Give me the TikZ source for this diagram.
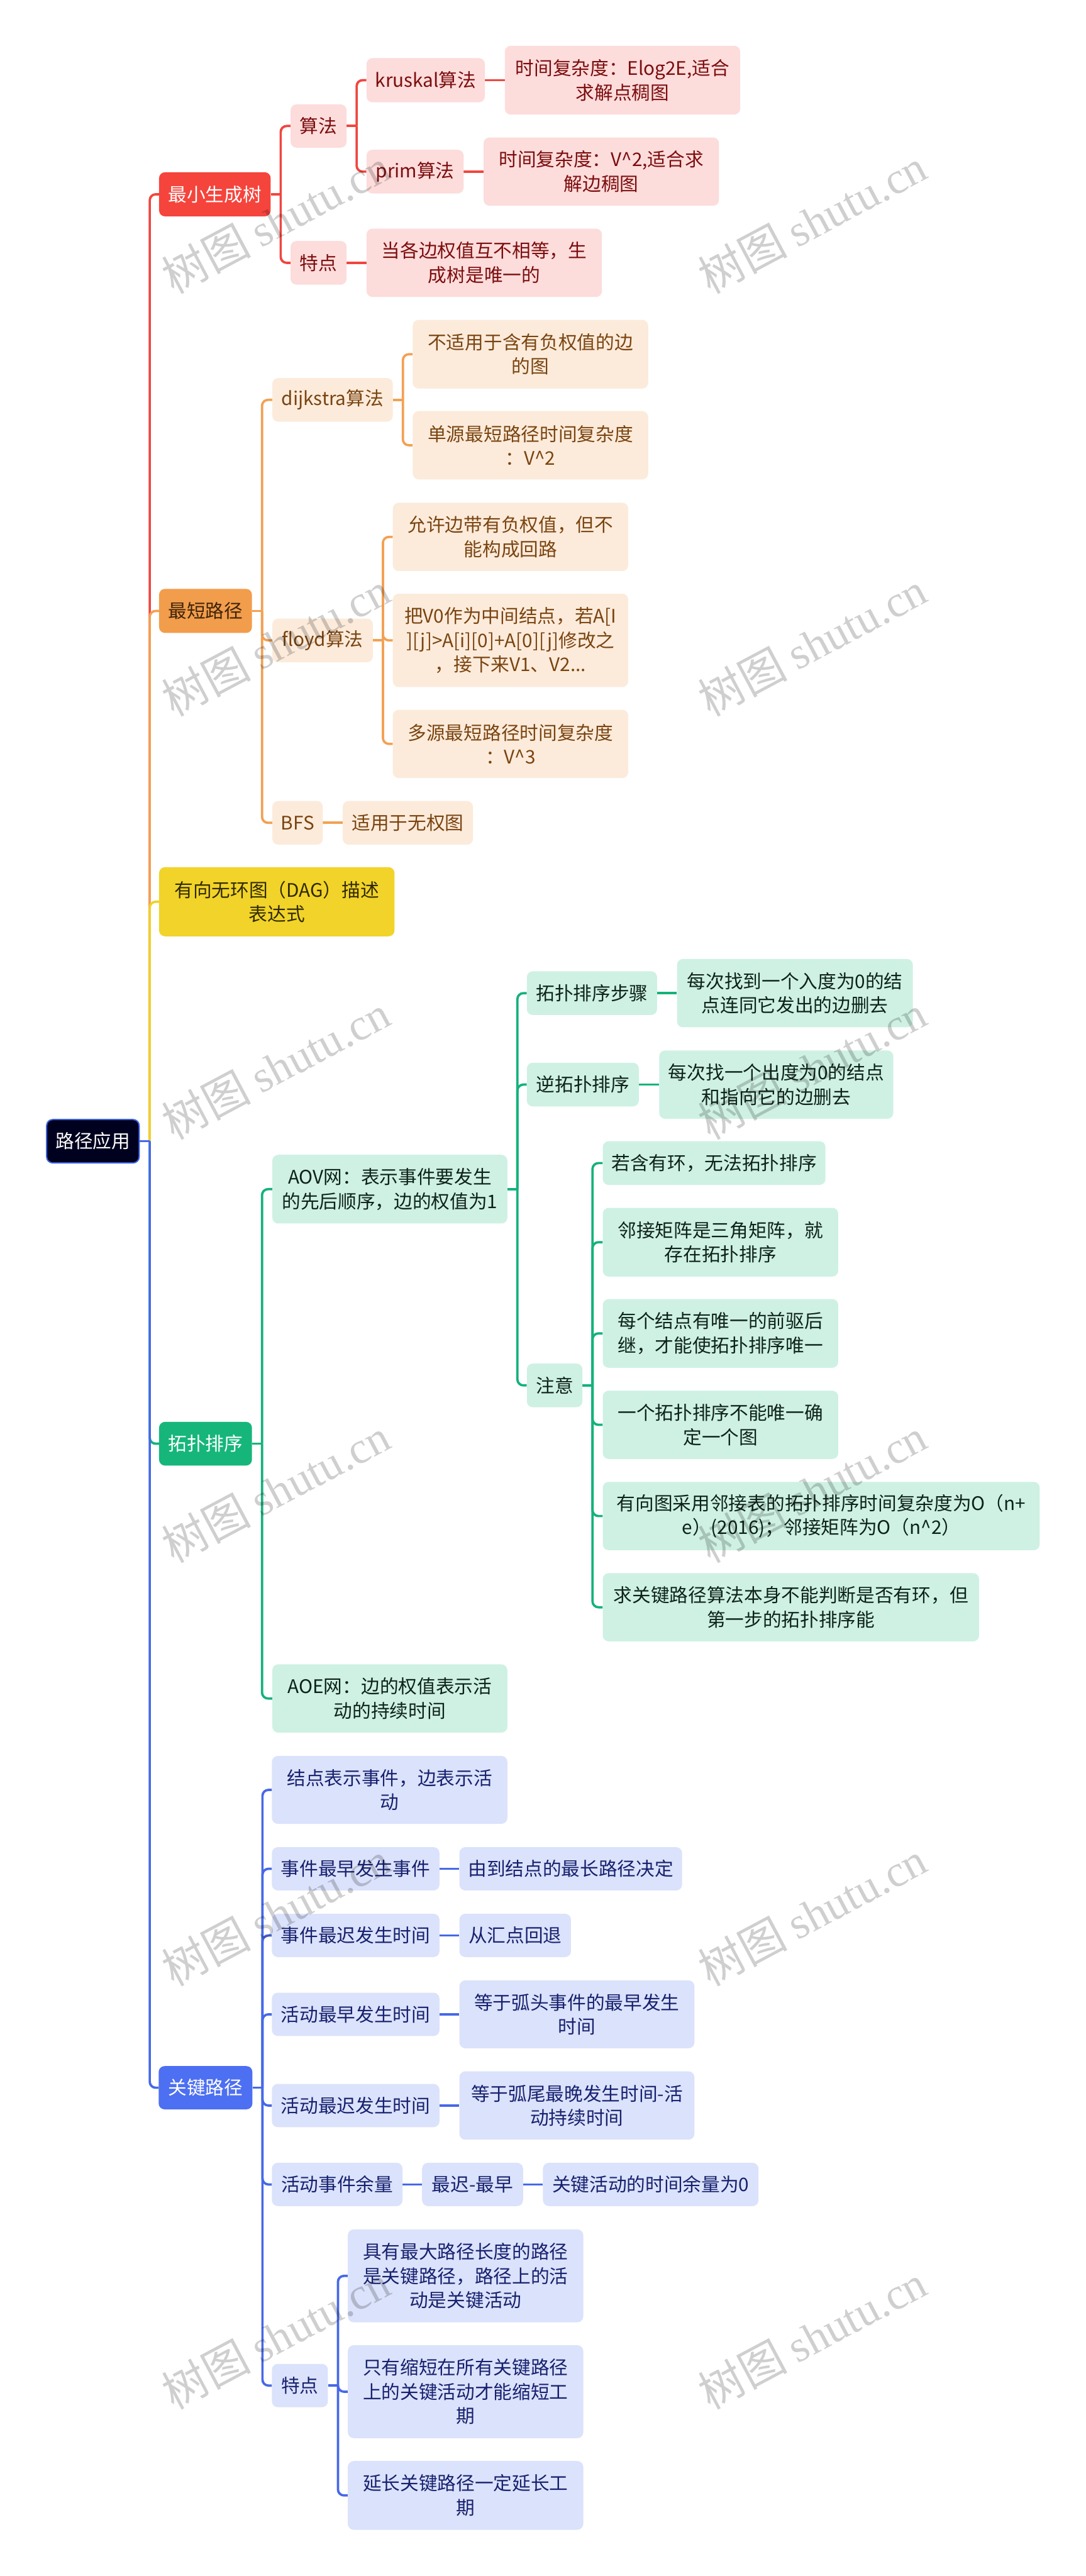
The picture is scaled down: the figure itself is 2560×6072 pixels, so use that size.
\documentclass[tikz,border=0pt]{standalone}
\usepackage{fontspec}
\setmainfont{Noto Sans CJK SC}
\newfontfamily\wmserif{Liberation Serif}
\usetikzlibrary{backgrounds}
\definecolor{rootfill}{HTML}{00001F}
\definecolor{rootdraw}{HTML}{3D62E0}
\definecolor{redA}{HTML}{F5443C}
\definecolor{redB}{HTML}{FDDCDC}
\definecolor{redT}{HTML}{7C0D0D}
\definecolor{redL}{HTML}{F0463F}
\definecolor{orA}{HTML}{F29D4C}
\definecolor{orAT}{HTML}{3F2308}
\definecolor{orB}{HTML}{FCEBDB}
\definecolor{orT}{HTML}{7A4410}
\definecolor{orL}{HTML}{F2A154}
\definecolor{yeA}{HTML}{F2D32A}
\definecolor{yeT}{HTML}{2F2A00}
\definecolor{yeL}{HTML}{F0D22A}
\definecolor{grA}{HTML}{16B67B}
\definecolor{grB}{HTML}{CEF1E3}
\definecolor{grT}{HTML}{0E2219}
\definecolor{grL}{HTML}{14B27A}
\definecolor{blA}{HTML}{4D6FF2}
\definecolor{blB}{HTML}{DBE2FB}
\definecolor{blT}{HTML}{17216E}
\definecolor{blL}{HTML}{4668E8}
\tikzset{
  bx/.style={rounded corners=14pt, inner sep=0pt, align=center, font={\fontsize{44pt}{57pt}\selectfont}},
  rootst/.style={fill=rootfill, draw=rootdraw, line width=3pt, text=white},
  rA/.style={fill=redA, text=white},
  rB/.style={fill=redB, text=redT},
  oA/.style={fill=orA, text=orAT},
  oB/.style={fill=orB, text=orT},
  yA/.style={fill=yeA, text=yeT},
  gA/.style={fill=grA, text=white},
  gB/.style={fill=grB, text=grT},
  bA/.style={fill=blA, text=white},
  bB/.style={fill=blB, text=blT},
  rl/.style={draw=redL, line width=5.5pt},
  ol/.style={draw=orL, line width=5.5pt},
  yl/.style={draw=yeL, line width=5.5pt},
  gl/.style={draw=grL, line width=5.5pt},
  bl/.style={draw=blL, line width=5.5pt},
  wm/.style={rotate=28, inner sep=0pt, text=black, text opacity=0.19, font={\fontsize{105pt}{110pt}\selectfont}},
}
\newcommand\nd[7]{\node[bx,#2,minimum width=#5pt,minimum height=#6pt] (#1) at (#3,#4) {#7};}
\newcommand\fork[3]{\draw[#1] (#2.east) -- ++(23.5,0); \draw[#1,rounded corners=14pt] ([xshift=23.5pt]#2.east) |- (#3.west);}
\newcommand\strt[3]{\draw[#1] (#2.east) -- (#3.west);}
\begin{document}
\begin{tikzpicture}[x=1pt,y=-1pt]
\begin{pgfonlayer}{background}
\fill[white] (0,0) rectangle (2560,6072);
\end{pgfonlayer}
\useasboundingbox (0,0) rectangle (2560,6072);
% root
\nd{root}{rootst}{219}{2690}{218}{102}{路径应用}
% red branch
\nd{mst}{rA}{506.5}{458}{263}{104}{最小生成树}
\nd{sf}{rB}{751}{297}{132}{102}{算法}
\nd{td}{rB}{751}{619.5}{132}{103}{特点}
\nd{kr}{rB}{1003.5}{189}{279}{104}{kruskal算法}
\nd{pr}{rB}{978.5}{404.5}{229}{103}{prim算法}
\nd{krl}{rB}{1467.5}{189}{555}{162}{时间复杂度：Elog2E,适合\\求解点稠图}
\nd{prl}{rB}{1417.5}{404.5}{555}{161}{时间复杂度：V\textasciicircum2,适合求\\解边稠图}
\nd{tdl}{rB}{1141.5}{619.5}{555}{161}{当各边权值互不相等，生\\成树是唯一的}
% orange branch
\nd{sp}{oA}{484.5}{1440}{219}{104}{最短路径}
\nd{dj}{oB}{784}{942.5}{284}{103}{dijkstra算法}
\nd{dja}{oB}{1250.5}{835}{555}{162}{不适用于含有负权值的边\\的图}
\nd{djb}{oB}{1250.5}{1049.5}{555}{161}{单源最短路径时间复杂度\\：V\textasciicircum2}
\nd{fl}{oB}{760.5}{1509.5}{237}{103}{floyd算法}
\nd{fla}{oB}{1203.5}{1265.5}{555}{161}{允许边带有负权值，但不\\能构成回路}
\nd{flb}{oB}{1203.5}{1509.5}{555}{220}{把V0作为中间结点，若A[I\\][j]>A[i][0]+A[0][j]修改之\\，接下来V1、V2...}
\nd{flc}{oB}{1203.5}{1753.5}{555}{161}{多源最短路径时间复杂度\\：V\textasciicircum3}
\nd{bfs}{oB}{701.5}{1939.5}{119}{103}{BFS}
\nd{bfsl}{oB}{961.5}{1939.5}{307}{103}{适用于无权图}
% yellow
\nd{dag}{yA}{652.5}{2125.5}{555}{163}{有向无环图（DAG）描述\\表达式}
% green branch
\nd{tp}{gA}{484.5}{3403}{219}{103}{拓扑排序}
\nd{aov}{gB}{919}{2803}{554}{162}{AOV网：表示事件要发生\\的先后顺序，边的权值为1}
\nd{aoe}{gB}{919}{4003.5}{554}{161}{AOE网：边的权值表示活\\动的持续时间}
\nd{st}{gB}{1395.5}{2341}{307}{103}{拓扑排序步骤}
\nd{stl}{gB}{1874}{2341}{556}{161}{每次找到一个入度为0的结\\点连同它发出的边删去}
\nd{rv}{gB}{1374}{2556.5}{264}{103}{逆拓扑排序}
\nd{rvl}{gB}{1830}{2556.5}{552}{161}{每次找一个出度为0的结点\\和指向它的边删去}
\nd{nt}{gB}{1307.5}{3265.5}{131}{103}{注意}
\nd{n1}{gB}{1683.5}{2741.5}{525}{103}{若含有环，无法拓扑排序}
\nd{n2}{gB}{1698.5}{2928}{555}{162}{邻接矩阵是三角矩阵，就\\存在拓扑排序}
\nd{n3}{gB}{1698.5}{3143}{555}{162}{每个结点有唯一的前驱后\\继，才能使拓扑排序唯一}
\nd{n4}{gB}{1698.5}{3358.5}{555}{161}{一个拓扑排序不能唯一确\\定一个图}
\nd{n5}{gB}{1936}{3573.5}{1030}{161}{有向图采用邻接表的拓扑排序时间复杂度为O（n+\\e）(2016)；邻接矩阵为O（n\textasciicircum2）}
\nd{n6}{gB}{1864.5}{3788.5}{887}{161}{求关键路径算法本身不能判断是否有环，但\\第一步的拓扑排序能}
% blue branch
\nd{cp}{bA}{484.5}{4921}{221}{102}{关键路径}
\nd{c1}{bB}{918.5}{4219}{555}{160}{结点表示事件，边表示活\\动}
\nd{c2}{bB}{838.5}{4405}{395}{102}{事件最早发生事件}
\nd{c2l}{bB}{1345.5}{4405}{525}{102}{由到结点的最长路径决定}
\nd{c3}{bB}{838.5}{4562}{395}{102}{事件最迟发生时间}
\nd{c3l}{bB}{1214.5}{4562}{263}{102}{从汇点回退}
\nd{c4}{bB}{838.5}{4748}{395}{102}{活动最早发生时间}
\nd{c4l}{bB}{1360}{4748}{554}{160}{等于弧头事件的最早发生\\时间}
\nd{c5}{bB}{838.5}{4963}{395}{102}{活动最迟发生时间}
\nd{c5l}{bB}{1360}{4963}{554}{161}{等于弧尾最晚发生时间-活\\动持续时间}
\nd{c6}{bB}{795}{5149}{308}{102}{活动事件余量}
\nd{c6m}{bB}{1114}{5149}{238}{102}{最迟-最早}
\nd{c6l}{bB}{1534}{5149}{508}{102}{关键活动的时间余量为0}
\nd{c7}{bB}{707}{5623}{132}{102}{特点}
\nd{t1}{bB}{1097.5}{5364.5}{555}{219}{具有最大路径长度的路径\\是关键路径，路径上的活\\动是关键活动}
\nd{t2}{bB}{1097.5}{5637.5}{555}{219}{只有缩短在所有关键路径\\上的关键活动才能缩短工\\期}
\nd{t3}{bB}{1097.5}{5882}{555}{162}{延长关键路径一定延长工\\期}
% connectors
\begin{pgfonlayer}{background}
\fork{rl}{root}{mst}
\fork{ol}{root}{sp}
\fork{yl}{root}{dag}
\fork{gl}{root}{tp}
\fork{bl}{root}{cp}
% red
\fork{rl}{mst}{sf}
\fork{rl}{mst}{td}
\fork{rl}{sf}{kr}
\fork{rl}{sf}{pr}
\strt{rl}{kr}{krl}
\strt{rl}{pr}{prl}
\strt{rl}{td}{tdl}
% orange
\fork{ol}{sp}{dj}
\fork{ol}{sp}{fl}
\fork{ol}{sp}{bfs}
\fork{ol}{dj}{dja}
\fork{ol}{dj}{djb}
\fork{ol}{fl}{fla}
\fork{ol}{fl}{flb}
\fork{ol}{fl}{flc}
\strt{ol}{bfs}{bfsl}
% green
\fork{gl}{tp}{aov}
\fork{gl}{tp}{aoe}
\fork{gl}{aov}{st}
\fork{gl}{aov}{rv}
\fork{gl}{aov}{nt}
\strt{gl}{st}{stl}
\strt{gl}{rv}{rvl}
\fork{gl}{nt}{n1}
\fork{gl}{nt}{n2}
\fork{gl}{nt}{n3}
\fork{gl}{nt}{n4}
\fork{gl}{nt}{n5}
\fork{gl}{nt}{n6}
% blue
\fork{bl}{cp}{c1}
\fork{bl}{cp}{c2}
\fork{bl}{cp}{c3}
\fork{bl}{cp}{c4}
\fork{bl}{cp}{c5}
\fork{bl}{cp}{c6}
\fork{bl}{cp}{c7}
\strt{bl}{c2}{c2l}
\strt{bl}{c3}{c3l}
\strt{bl}{c4}{c4l}
\strt{bl}{c5}{c5l}
\strt{bl}{c6}{c6m}
\strt{bl}{c6m}{c6l}
\fork{bl}{c7}{t1}
\fork{bl}{c7}{t2}
\fork{bl}{c7}{t3}
\end{pgfonlayer}
% watermarks
\foreach \wy in {521,1518,2516,3513,4511,5508}{
  \node[wm] (wl\wy) at (650,\wy) {树图 {\wmserif shutu.cn}};
  \node[wm] (wr\wy) at (1915,\wy) {树图 {\wmserif shutu.cn}};
}
\end{tikzpicture}
\end{document}
